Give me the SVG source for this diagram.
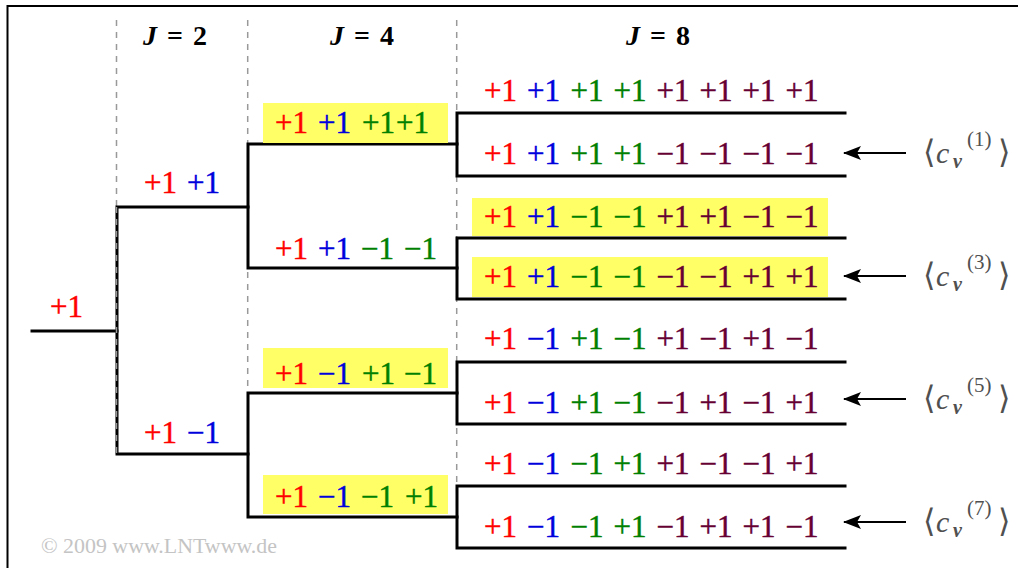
<svg xmlns="http://www.w3.org/2000/svg" width="1018" height="568" viewBox="0 0 1018 568">
<style>
.t{font-family:"Liberation Serif","Times New Roman",serif;font-size:31px;stroke-width:0.45}
.h{font-family:"Liberation Serif","Times New Roman",serif;font-size:28px;font-weight:bold;fill:#000}
.r{fill:#ff0000;stroke:#ff0000}.b{fill:#0000dd;stroke:#0000dd}.g{fill:#008000;stroke:#008000}.m{fill:#660033;stroke:#660033}
.hl{fill:#ffff66}
.dash{stroke:#999;stroke-width:1.5;stroke-dasharray:6,6;fill:none}
.tree{stroke:#000;stroke-width:3;fill:none;stroke-linecap:square}
.arr{stroke:#000;stroke-width:2;fill:none}
.lab{font-family:"Liberation Serif","DejaVu Serif",serif;fill:#505050}
.copy{font-family:"Liberation Serif","Times New Roman",serif;font-size:21px;fill:#c4c4c4}
</style>
<defs>
<marker id="ah" markerWidth="18" markerHeight="14" refX="17" refY="7" orient="auto" markerUnits="userSpaceOnUse">
<path d="M0,0 L18,7 L0,14 L4,7 Z" fill="#000"/>
</marker>
</defs>
<rect x="0" y="0" width="1018" height="568" fill="#fff"/>
<rect x="7.5" y="6" width="1030" height="600" fill="none" stroke="#000" stroke-width="2"/>

<g id="grid">
<line class="dash" x1="116.5" y1="20" x2="116.5" y2="454"/>
<line class="dash" x1="247.7" y1="20" x2="247.7" y2="517"/>
<line class="dash" x1="456.7" y1="20" x2="456.7" y2="548"/>
</g>

<g id="headers">
<text class="h" y="45"><tspan x="143" font-style="italic">J</tspan><tspan x="167">=</tspan><tspan x="193">2</tspan></text>
<text class="h" y="45"><tspan x="330" font-style="italic">J</tspan><tspan x="354">=</tspan><tspan x="380">4</tspan></text>
<text class="h" y="45"><tspan x="626" font-style="italic">J</tspan><tspan x="650">=</tspan><tspan x="676">8</tspan></text>
</g>

<g id="connectors">
<path class="tree" d="M32,331 H117"/>
<path class="tree" d="M248,207 H117 V454 H248"/>
<path class="tree" d="M457,144 H248 V268 H457"/>
<path class="tree" d="M457,393 H248 V517 H457"/>
<path class="tree" d="M845,113 H457 V176 H845"/>
<path class="tree" d="M845,238 H457 V299 H845"/>
<path class="tree" d="M845,362 H457 V424 H845"/>
<path class="tree" d="M845,486 H457 V548 H845"/>
<line class="dash" x1="116.5" y1="207" x2="116.5" y2="454"/>
<line class="arr" x1="906" y1="153" x2="844" y2="153" marker-end="url(#ah)"/>
<line class="arr" x1="906" y1="276" x2="844" y2="276" marker-end="url(#ah)"/>
<line class="arr" x1="906" y1="399" x2="844" y2="399" marker-end="url(#ah)"/>
<line class="arr" x1="906" y1="522" x2="844" y2="522" marker-end="url(#ah)"/>
</g>

<g id="root">
<text class="t r" x="50" y="317">+1</text>
</g>

<g id="j2-top">
<text class="t" y="193"><tspan class="r" x="144">+1</tspan><tspan class="b" x="187">+1</tspan></text>
</g>
<g id="j2-bottom">
<text class="t" y="443"><tspan class="r" x="144">+1</tspan><tspan class="b" x="187">−1</tspan></text>
</g>

<g id="j4-1">
<rect class="hl" x="263" y="103" width="185" height="40"/>
<text class="t" y="133"><tspan class="r" x="275">+1</tspan><tspan class="b" x="318">+1</tspan><tspan class="g" x="362">+1</tspan><tspan class="g" x="396">+1</tspan></text>
</g>
<g id="j4-2">
<text class="t" y="259"><tspan class="r" x="275">+1</tspan><tspan class="b" x="318">+1</tspan><tspan class="g" x="361">−1</tspan><tspan class="g" x="404">−1</tspan></text>
</g>
<g id="j4-3">
<rect class="hl" x="263" y="348" width="185" height="40"/>
<text class="t" y="384"><tspan class="r" x="275">+1</tspan><tspan class="b" x="318">−1</tspan><tspan class="g" x="362">+1</tspan><tspan class="g" x="404">−1</tspan></text>
</g>
<g id="j4-4">
<rect class="hl" x="263" y="475" width="185" height="39"/>
<text class="t" y="507"><tspan class="r" x="275">+1</tspan><tspan class="b" x="318">−1</tspan><tspan class="g" x="361">−1</tspan><tspan class="g" x="405">+1</tspan></text>
</g>

<g id="j8-1">
<text class="t" y="101"><tspan class="r" x="484">+1</tspan><tspan class="b" x="527">+1</tspan><tspan class="g" x="570.5">+1</tspan><tspan class="g" x="613.5">+1</tspan><tspan class="m" x="656.5">+1</tspan><tspan class="m" x="699.5">+1</tspan><tspan class="m" x="742.5">+1</tspan><tspan class="m" x="785.5">+1</tspan></text>
</g>
<g id="j8-2">
<text class="t" y="164"><tspan class="r" x="484">+1</tspan><tspan class="b" x="527">+1</tspan><tspan class="g" x="570.5">+1</tspan><tspan class="g" x="613.5">+1</tspan><tspan class="m" x="656.5">−1</tspan><tspan class="m" x="699.5">−1</tspan><tspan class="m" x="742.5">−1</tspan><tspan class="m" x="785.5">−1</tspan></text>
</g>
<g id="j8-3">
<rect class="hl" x="472" y="198" width="356" height="38"/>
<text class="t" y="227"><tspan class="r" x="484">+1</tspan><tspan class="b" x="527">+1</tspan><tspan class="g" x="570.5">−1</tspan><tspan class="g" x="613.5">−1</tspan><tspan class="m" x="656.5">+1</tspan><tspan class="m" x="699.5">+1</tspan><tspan class="m" x="742.5">−1</tspan><tspan class="m" x="785.5">−1</tspan></text>
</g>
<g id="j8-4">
<rect class="hl" x="472" y="257" width="356" height="40"/>
<text class="t" y="287"><tspan class="r" x="484">+1</tspan><tspan class="b" x="527">+1</tspan><tspan class="g" x="570.5">−1</tspan><tspan class="g" x="613.5">−1</tspan><tspan class="m" x="656.5">−1</tspan><tspan class="m" x="699.5">−1</tspan><tspan class="m" x="742.5">+1</tspan><tspan class="m" x="785.5">+1</tspan></text>
</g>
<g id="j8-5">
<text class="t" y="349"><tspan class="r" x="484">+1</tspan><tspan class="b" x="527">−1</tspan><tspan class="g" x="570.5">+1</tspan><tspan class="g" x="613.5">−1</tspan><tspan class="m" x="656.5">+1</tspan><tspan class="m" x="699.5">−1</tspan><tspan class="m" x="742.5">+1</tspan><tspan class="m" x="785.5">−1</tspan></text>
</g>
<g id="j8-6">
<text class="t" y="413"><tspan class="r" x="484">+1</tspan><tspan class="b" x="527">−1</tspan><tspan class="g" x="570.5">+1</tspan><tspan class="g" x="613.5">−1</tspan><tspan class="m" x="656.5">−1</tspan><tspan class="m" x="699.5">+1</tspan><tspan class="m" x="742.5">−1</tspan><tspan class="m" x="785.5">+1</tspan></text>
</g>
<g id="j8-7">
<text class="t" y="474"><tspan class="r" x="484">+1</tspan><tspan class="b" x="527">−1</tspan><tspan class="g" x="570.5">−1</tspan><tspan class="g" x="613.5">+1</tspan><tspan class="m" x="656.5">+1</tspan><tspan class="m" x="699.5">−1</tspan><tspan class="m" x="742.5">−1</tspan><tspan class="m" x="785.5">+1</tspan></text>
</g>
<g id="j8-8">
<text class="t" y="537"><tspan class="r" x="484">+1</tspan><tspan class="b" x="527">−1</tspan><tspan class="g" x="570.5">−1</tspan><tspan class="g" x="613.5">+1</tspan><tspan class="m" x="656.5">−1</tspan><tspan class="m" x="699.5">+1</tspan><tspan class="m" x="742.5">+1</tspan><tspan class="m" x="785.5">−1</tspan></text>
</g>

<g id="label-c1">
<text class="lab" y="163"><tspan x="923" font-size="32">⟨</tspan><tspan x="936" font-size="30" font-style="italic">c</tspan><tspan x="953" y="168" font-size="20" font-style="italic" font-weight="bold">ν</tspan><tspan x="967" y="146" font-size="21">(1)</tspan><tspan x="998" y="163" font-size="32">⟩</tspan></text>
</g>
<g id="label-c3">
<text class="lab" y="286"><tspan x="923" font-size="32">⟨</tspan><tspan x="936" font-size="30" font-style="italic">c</tspan><tspan x="953" y="291" font-size="20" font-style="italic" font-weight="bold">ν</tspan><tspan x="967" y="269" font-size="21">(3)</tspan><tspan x="998" y="286" font-size="32">⟩</tspan></text>
</g>
<g id="label-c5">
<text class="lab" y="409"><tspan x="923" font-size="32">⟨</tspan><tspan x="936" font-size="30" font-style="italic">c</tspan><tspan x="953" y="414" font-size="20" font-style="italic" font-weight="bold">ν</tspan><tspan x="967" y="392" font-size="21">(5)</tspan><tspan x="998" y="409" font-size="32">⟩</tspan></text>
</g>
<g id="label-c7">
<text class="lab" y="532"><tspan x="923" font-size="32">⟨</tspan><tspan x="936" font-size="30" font-style="italic">c</tspan><tspan x="953" y="537" font-size="20" font-style="italic" font-weight="bold">ν</tspan><tspan x="967" y="515" font-size="21">(7)</tspan><tspan x="998" y="532" font-size="32">⟩</tspan></text>
</g>

<g id="copyright">
<text class="copy" x="41" y="553" textLength="236" lengthAdjust="spacingAndGlyphs">© 2009 www.LNTwww.de</text>
</g>
</svg>
